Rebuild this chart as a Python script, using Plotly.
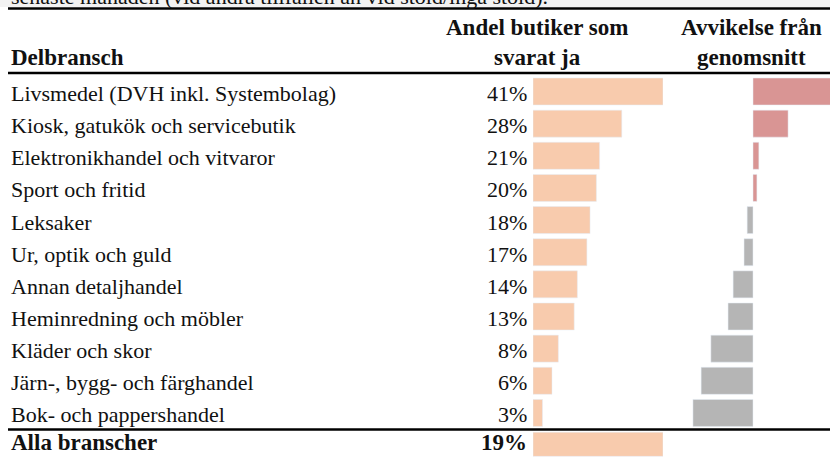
import plotly.graph_objects as go

W, H = 830, 457

categories = [
    "Livsmedel (DVH inkl. Systembolag)",
    "Kiosk, gatukök och servicebutik",
    "Elektronikhandel och vitvaror",
    "Sport och fritid",
    "Leksaker",
    "Ur, optik och guld",
    "Annan detaljhandel",
    "Heminredning och möbler",
    "Kläder och skor",
    "Järn-, bygg- och färghandel",
    "Bok- och pappershandel",
]
share = [41, 28, 21, 20, 18, 17, 14, 13, 8, 6, 3]
deviation = [22, 9, 1.5, 1, -1.5, -2.3, -5.1, -6.4, -10.8, -13.3, -15.4]
total_label = "Alla branscher"
total_share = [19]
header_cat = "Delbransch"
header_share = ["Andel butiker som", "svarat ja"]
header_dev = ["Avvikelse från", "genomsnitt"]
note = "senaste månaden (vid andra tillfällen än vid stöld/inga stöld)."

FONT = "Liberation Serif, serif"
PEACH = "#F8CBAD"
RED = "#D99594"
GRAY = "#B5B5B5"


def px(x):
    return x / W


def py(y):
    return 1 - y / H


fig = go.Figure()
fig.add_trace(go.Bar(x=share, y=categories, orientation="h", marker_color=PEACH,
                     xaxis="x", yaxis="y", hoverinfo="skip"))
fig.add_trace(go.Bar(x=deviation, y=categories, orientation="h",
                     marker_color=[RED if d >= 0 else GRAY for d in deviation],
                     xaxis="x2", yaxis="y", hoverinfo="skip"))
fig.add_trace(go.Bar(x=total_share, y=[total_label], orientation="h", marker_color=PEACH,
                     xaxis="x3", yaxis="y3", hoverinfo="skip", width=0.95))

txt = dict(family=FONT, size=22, color="#111")
btxt = dict(family=FONT, size=23, color="#111")
ann = []
for c, s in zip(categories, share):
    ann.append(dict(x=px(9), xref="paper", y=c, yref="y", text=c, xanchor="left",
                    yanchor="middle", yshift=-2, showarrow=False, font=txt))
    ann.append(dict(x=px(529), xref="paper", y=c, yref="y", text=f"{s}%", xanchor="right",
                    yanchor="middle", yshift=-2, showarrow=False, font=txt))
ann.append(dict(x=px(9), xref="paper", y=py(455), yref="paper", text=f"<b>{total_label}</b>",
                xanchor="left", yanchor="bottom", yshift=-2, showarrow=False, font=btxt))
ann.append(dict(x=px(529), xref="paper", y=py(455), yref="paper", text=f"<b>{total_share[0]}%</b>",
                xanchor="right", yanchor="bottom", yshift=-2, showarrow=False, font=btxt))
ann.append(dict(x=px(9), xref="paper", y=py(58), yref="paper", text=f"<b>{header_cat}</b>",
                xanchor="left", yanchor="middle", showarrow=False, font=btxt))
for i, t in enumerate(header_share):
    ann.append(dict(x=px(537), xref="paper", y=py(27 + 31 * i), yref="paper", text=f"<b>{t}</b>",
                    xanchor="center", yanchor="middle", showarrow=False, font=btxt))
for i, t in enumerate(header_dev):
    ann.append(dict(x=px(751), xref="paper", y=py(27 + 31 * i), yref="paper", text=f"<b>{t}</b>",
                    xanchor="center", yanchor="middle", showarrow=False, font=btxt))
ann.append(dict(x=px(9), xref="paper", y=py(11), yref="paper", text=note,
                xanchor="left", yanchor="bottom", showarrow=False, font=txt))

shapes = [
    dict(type="rect", xref="paper", yref="paper", x0=0, x1=1, y0=py(7), y1=1,
         fillcolor="#F2F2F2", line_width=0, layer="below"),
    dict(type="line", xref="paper", yref="paper", x0=px(8), x1=1, y0=py(8.5), y1=py(8.5),
         line=dict(color="black", width=2.5)),
    dict(type="line", xref="paper", yref="paper", x0=px(8), x1=1, y0=py(73), y1=py(73),
         line=dict(color="black", width=2.5)),
    dict(type="line", xref="paper", yref="paper", x0=px(8), x1=1, y0=py(429.5), y1=py(429.5),
         line=dict(color="black", width=2.5)),
]

noax = dict(showgrid=False, zeroline=False, showticklabels=False, ticks="", showline=False)
fig.update_layout(
    width=W, height=H, margin=dict(l=0, r=0, t=0, b=0),
    paper_bgcolor="white", plot_bgcolor="rgba(0,0,0,0)",
    showlegend=False, bargap=0.16,
    xaxis=dict(domain=[px(533), px(663)], range=[0, 41], anchor="y", **noax),
    xaxis2=dict(domain=[px(680), 1.0], range=[-(753 - 680) / 3.9, (830 - 753) / 3.9], anchor="y", **noax),
    xaxis3=dict(domain=[px(533), px(663)], range=[0, 19], anchor="y3", **noax),
    yaxis=dict(domain=[py(429), py(75)], autorange="reversed", anchor="x", **noax),
    yaxis3=dict(domain=[0, py(431.5)], anchor="x3", **noax),
    annotations=ann, shapes=shapes,
)

fig.write_html(
    "out.html",
    config={"staticPlot": True},
    post_script="document.body.style.margin='0';document.body.style.padding='0';document.body.style.overflow='hidden';",
)
